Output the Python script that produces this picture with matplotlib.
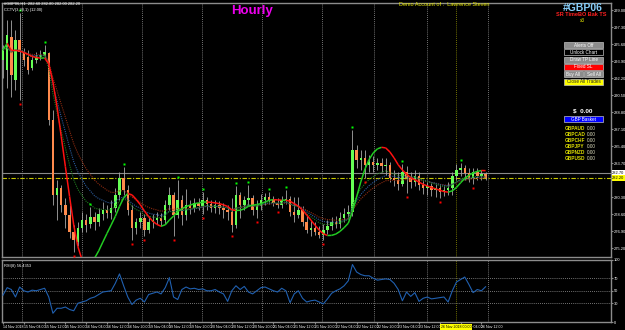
import numpy as np
import matplotlib.pyplot as plt
from matplotlib.collections import LineCollection
from matplotlib.patches import Rectangle

plt.rcParams['font.family'] = ['Liberation Sans', 'DejaVu Sans']

# --- H1 bars, #GBP06 ---
opens = [294.0, 293.0, 296.3, 292.0, 296.0, 294.8, 294.3, 293.2, 294.0, 294.3,
         294.4, 294.7, 288.0, 280.5, 281.2, 279.5, 278.5, 276.8, 275.8, 277.2,
         278.0, 277.6, 278.3, 277.8, 278.6, 279.0, 278.7, 279.2, 280.5, 282.2,
         281.0, 279.0, 277.2, 277.8, 278.2, 277.0, 277.8, 278.0, 278.2, 278.0,
         279.5, 280.5, 278.5, 280.0, 278.5, 279.5, 279.2, 279.7, 279.4, 280.0,
         279.6, 279.2, 279.5, 279.2, 279.0, 278.8, 277.5, 280.5, 279.5, 280.0,
         280.2, 279.0, 279.4, 280.0, 280.3, 280.0, 279.7, 279.5, 280.0, 280.1,
         278.8, 278.5, 279.0, 277.8, 277.0, 277.2, 276.8, 276.5, 277.0, 277.4,
         277.8, 277.6, 278.2, 278.6, 278.8, 285.0, 284.0, 284.2, 283.5, 283.8,
         283.5, 283.7, 283.4, 283.5, 282.2, 282.0, 281.6, 282.8, 282.2, 281.8,
         282.4, 281.5, 281.2, 281.4, 281.0, 281.2, 280.8, 281.0, 281.2, 282.4,
         283.0, 283.2, 282.7, 282.2, 282.8, 282.4, 282.6]
highs = [295.5, 298.0, 298.0, 297.0, 298.7, 295.2, 295.0, 294.5, 294.8, 295.0,
         295.5, 294.8, 289.0, 282.0, 281.5, 280.2, 279.5, 277.5, 277.8, 278.8,
         278.6, 279.3, 278.8, 279.2, 279.8, 279.5, 280.0, 281.2, 282.8, 283.3,
         281.5, 279.5, 278.2, 278.8, 278.6, 278.4, 278.6, 278.8, 278.7, 280.0,
         281.3, 280.8, 282.0, 280.5, 281.1, 280.0, 280.2, 280.2, 280.8, 280.3,
         280.0, 280.0, 279.9, 279.7, 279.5, 280.2, 281.4, 280.8, 280.4, 281.5,
         280.5, 280.0, 280.6, 280.7, 280.8, 280.4, 280.2, 280.4, 281.0, 280.4,
         280.3, 280.3, 279.4, 278.4, 278.0, 277.8, 277.4, 277.6, 278.0, 278.3,
         278.4, 278.8, 279.2, 279.5, 287.0, 285.5, 285.0, 285.0, 284.5, 284.4,
         284.2, 284.2, 284.2, 283.8, 283.0, 282.8, 283.6, 283.4, 282.8, 283.0,
         282.8, 282.0, 281.8, 281.7, 281.6, 281.6, 281.5, 281.8, 282.8, 283.6,
         283.7, 283.5, 283.2, 283.2, 283.2, 283.0, 282.8]
lows = [292.2, 291.2, 290.3, 291.0, 290.0, 293.4, 292.6, 293.0, 293.7, 294.0,
        294.2, 287.5, 279.5, 278.0, 278.8, 277.2, 276.2, 274.8, 275.4, 276.8,
        276.8, 277.2, 277.0, 277.4, 278.0, 278.2, 278.1, 278.8, 280.0, 280.5,
        278.5, 276.0, 276.6, 277.2, 276.4, 276.7, 277.2, 277.6, 277.4, 277.6,
        279.0, 276.4, 278.2, 277.5, 278.0, 278.6, 278.8, 279.0, 278.6, 279.0,
        278.8, 278.7, 278.6, 278.2, 278.0, 276.8, 277.2, 278.2, 279.0, 279.4,
        278.5, 278.2, 279.0, 279.5, 279.6, 279.4, 279.2, 279.2, 279.6, 278.4,
        277.8, 278.2, 277.4, 276.7, 276.4, 276.5, 276.2, 276.0, 276.6, 277.0,
        277.2, 277.2, 277.8, 278.2, 278.4, 283.2, 283.0, 282.2, 282.8, 282.8,
        283.0, 282.8, 282.5, 281.8, 281.4, 281.0, 281.4, 280.7, 281.2, 281.4,
        281.0, 280.6, 280.5, 280.4, 280.3, 280.2, 280.4, 280.5, 280.5, 282.0,
        282.4, 282.0, 281.8, 281.6, 282.0, 282.0, 282.0]
closes = [295.0, 296.5, 292.5, 296.0, 294.8, 294.0, 293.0, 294.0, 294.3, 294.5,
          294.8, 288.0, 280.5, 281.2, 279.5, 278.5, 276.8, 276.0, 277.2, 278.0,
          277.5, 278.3, 277.8, 278.6, 279.0, 278.7, 279.2, 280.5, 282.2, 281.0,
          279.0, 277.2, 277.8, 278.2, 277.0, 277.8, 278.0, 278.2, 277.9, 279.5,
          280.5, 278.5, 280.0, 278.5, 279.5, 279.2, 279.7, 279.4, 280.0, 279.6,
          279.2, 279.5, 279.2, 279.0, 278.8, 277.5, 280.5, 279.5, 280.0, 280.2,
          279.0, 279.4, 280.0, 280.3, 280.0, 279.7, 279.5, 280.0, 280.1, 278.8,
          278.5, 279.0, 277.8, 277.0, 277.2, 276.8, 276.5, 277.0, 277.4, 277.8,
          277.6, 278.2, 278.6, 278.8, 285.0, 284.0, 284.2, 283.5, 283.8, 283.5,
          283.7, 283.4, 283.5, 282.2, 282.0, 281.6, 282.8, 282.2, 281.8, 282.4,
          281.5, 281.2, 281.4, 281.0, 281.2, 280.8, 281.0, 281.2, 282.4, 283.0,
          283.2, 282.7, 282.2, 282.8, 282.4, 282.6, 282.2]

# RSI(8) as shown in the lower window
rsi_values = [43, 55, 52, 40, 56, 50, 48, 51, 50, 52,
              54, 40, 14, 22, 22, 24, 20, 18, 30, 32,
              34, 38, 40, 44, 48, 49, 50, 62, 77, 58,
              40, 28, 35, 38, 32, 44, 46, 48, 45, 55,
              71, 40, 36, 52, 56, 53, 54, 52, 53, 50,
              50, 52, 48, 45, 33, 50, 58, 52, 57, 48,
              45, 50, 55, 56, 53, 50, 48, 54, 50, 31,
              45, 50, 38, 32, 34, 35, 32, 29, 37, 46,
              50, 53, 58, 66, 92, 80, 76, 74, 74, 70,
              67, 68, 69, 68, 62, 52, 34, 48, 41, 47,
              33, 38, 40, 37, 38, 39, 40, 32, 50, 64,
              68, 72, 60, 47, 52, 50, 56.4353]

date_labels = ["14 Nov 2018", "15 Nov 04:00", "15 Nov 12:00", "15 Nov 20:00", "16 Nov 04:00",
               "16 Nov 12:00", "16 Nov 20:00", "19 Nov 04:00", "19 Nov 12:00", "19 Nov 20:00",
               "20 Nov 04:00", "20 Nov 12:00", "20 Nov 20:00", "21 Nov 04:00", "21 Nov 12:00",
               "21 Nov 20:00", "22 Nov 04:00", "22 Nov 12:00", "22 Nov 20:00", "23 Nov 04:00",
               "23 Nov 12:00", "23 Nov 20:00", "26 Nov 04:00", "26 Nov 12:00"]
price_ticks = [299.0, 297.3, 295.6, 293.9, 292.2, 290.5, 288.8, 287.1, 285.4, 283.7,
               280.3, 278.6, 276.9, 275.2]
ask_price = 282.7
bid_price = 282.2
basket_pairs = ["GBPAUD", "GBPCAD", "GBPCHF", "GBPJPY", "GBPNZD", "GBPUSD"]
basket_pnl = [0.00, 0.00, 0.00, 0.00, 0.00, 0.00]

o = np.array(opens); h = np.array(highs); l = np.array(lows); c = np.array(closes)
n = len(c)
x = np.arange(n)


def wma(v, p):
    out = np.empty(len(v))
    for i in range(len(v)):
        seg = v[max(0, i - p + 1):i + 1]
        w = np.arange(1, len(seg) + 1)
        out[i] = np.dot(seg, w) / w.sum()
    return out


def ema(v, p):
    a = 2.0 / (p + 1)
    out = np.empty(len(v))
    out[0] = v[0]
    for i in range(1, len(v)):
        out[i] = out[i - 1] + a * (v[i] - out[i - 1])
    return out


hma = wma(2 * wma(c, 9) - wma(c, 18), 4)

fig = plt.figure(figsize=(6.25, 3.3), dpi=100, facecolor='black')
ax = fig.add_axes([0.0032, 0.2212, 0.9744, 0.7697], facecolor='black')
ar = fig.add_axes([0.0032, 0.0242, 0.9744, 0.1894], facecolor='black')

grid_bars = [4.6, 19.0, 33.4, 47.8, 62.3, 76.7, 89.2, 101.9, 116.6]
for a in (ax, ar):
    a.set_xlim(-0.24, 146.15)
    for s in a.spines.values():
        s.set_color('#8c8c8c')
        s.set_linewidth(1.0)
    for gx in grid_bars:
        a.axvline(gx, color='#9a9a9a', lw=0.6, ls=(0, (1, 1.5)), zorder=0)
    a.axvline(108.9, color='#9a9a00', lw=0.6, ls=(0, (1, 1.5)), zorder=0)

ax.set_ylim(274.3, 299.7)

# candles
ax.vlines(x, l, h, color='#a8a8a8', lw=0.6, zorder=2)
bull = c >= o
body = np.maximum(np.abs(c - o), 0.12)
ax.bar(x, body, bottom=np.minimum(o, c), width=0.6,
       color=np.where(bull, '#66ff55', '#ff8a4c'), zorder=3)

# slower dotted averages
ax.plot(x, ema(c, 16), color='#8b2a10', lw=0.8, ls=(0, (1, 1)), zorder=4)
ax.plot(x, ema(c, 12), color='#2a5a9a', lw=0.8, ls=(0, (1, 1)), zorder=4)
ax.plot(x, ema(c, 9), color='#1f7a1f', lw=0.8, ls=(0, (1, 1)), zorder=4)

# hull line, red falling / green rising
pts = np.column_stack([x, hma])
segs = np.stack([pts[:-1], pts[1:]], axis=1)
cols = ['#22cc22' if hma[i + 1] > hma[i] else '#ff1010' for i in range(n - 1)]
ax.add_collection(LineCollection(segs, colors=cols, linewidths=1.1, zorder=5))

# fractals
up_f = [i for i in range(2, n - 2) if h[i] > max(h[i - 2:i]) and h[i] >= max(h[i + 1:i + 3])]
dn_f = [i for i in range(2, n - 2) if l[i] < min(l[i - 2:i]) and l[i] <= min(l[i + 1:i + 3])]
ax.plot(up_f, h[up_f] + 0.35, 's', color='#00ff00', ms=1.7, mec='none', zorder=6)
ax.plot(dn_f, l[dn_f] - 0.35, 's', color='#ff0000', ms=1.7, mec='none', zorder=6)

ax.axhline(ask_price, color='#8a8a8a', lw=0.8, zorder=1)
ax.axhline(bid_price, color='#c8c800', lw=0.8, ls=(0, (4, 1.5, 1, 1.5)), zorder=1)

ax.set_xticks([])
ax.yaxis.tick_right()
ax.set_yticks(price_ticks)
ax.set_yticklabels([f"{p:.2f}" for p in price_ticks])
ax.tick_params(axis='y', colors='#8c8c8c', labelcolor='white', labelsize=2.9, length=1.5, pad=0.6)
ax.text(1.002, (ask_price - 274.3) / 25.4, f"{ask_price:.2f}", transform=ax.transAxes, fontsize=2.9,
        va='center', ha='left', color='black', bbox=dict(boxstyle='square,pad=0.15', fc='white', ec='none'))
ax.text(1.002, (bid_price - 274.3) / 25.4, f"{bid_price:.2f}", transform=ax.transAxes, fontsize=2.9,
        va='center', ha='left', color='black', bbox=dict(boxstyle='square,pad=0.15', fc='#ffff00', ec='none'))

# RSI window
ar.set_ylim(0, 100)
for lvl in (30, 50, 70):
    ar.axhline(lvl, color='#9a9a9a', lw=0.6, ls=(0, (1, 1.5)), zorder=0)
ar.plot(x, rsi_values, color='#2060b0', lw=0.8, zorder=3)
ar.yaxis.tick_right()
ar.set_yticks([0, 30, 50, 70, 100])
ar.tick_params(axis='y', colors='#8c8c8c', labelcolor='white', labelsize=2.9, length=1.5, pad=0.6)
ar.set_xticks([5 * k for k in range(len(date_labels))])
ar.set_xticklabels(date_labels, family=['Liberation Sans Narrow', 'Liberation Sans'])
ar.tick_params(axis='x', colors='#8c8c8c', labelcolor='white', labelsize=2.6, length=1.5, pad=0.8)
for t in ar.get_xticklabels():
    t.set_ha('left')
ar.text(0.004, 0.93, f"RSI(8) {rsi_values[-1]:.4f}", transform=ar.transAxes, fontsize=2.9,
        color='white', va='top', ha='left')
ar.text(108.9, -4.5, "26 Nov 2018 00:00", fontsize=2.6, color='black', ha='center', va='top',
        family=['Liberation Sans Narrow', 'Liberation Sans'], clip_on=False,
        bbox=dict(boxstyle='square,pad=0.2', fc='#ffff00', ec='none'), zorder=10)

# overlay for chart texts and panel buttons (pixel coordinates)
ov = fig.add_axes([0, 0, 1, 1])
ov.set_xlim(0, 625)
ov.set_ylim(330, 0)
ov.axis('off')
ov.patch.set_alpha(0)

ov.text(4, 4, f"#GBP06,H1  {o[-1]:.2f} {h[-1]:.2f} {l[-1]:.2f} {c[-1]:.2f}", fontsize=2.9,
        color='white', va='center')
ov.text(4, 10, "CCTV(3,20,1) (12.00)", fontsize=2.9, color='white', va='center')
ov.text(252, 11, "Hourly", fontsize=9.5, fontweight='bold', color='#ee00ee', ha='center', va='center')
ov.text(444, 5, "Demo Account of :  Lawrence Steven", fontsize=4.0, color='#e8e800',
        ha='center', va='center')
ov.text(583, 8, "#GBP06", fontsize=7.5, fontweight='bold', color='#87cefa', ha='center', va='center')
ov.text(581, 15, "SR TimeBO Bak TS", fontsize=4.0, fontweight='bold', color='#ff2020',
        ha='center', va='center')
ov.text(582, 21, "x3", fontsize=3.4, color='#e8e800', ha='center', va='center')

buttons = [("Alerts Off", 564, 42, 39, '#8c8c8c', 'white', '#c0c0c0'),
           ("Unlock Chart", 564, 49.3, 39, 'black', 'white', '#c0c0c0'),
           ("Draw TP Line", 564, 56.6, 39, '#8c8c8c', 'white', '#c0c0c0'),
           ("Fixed SL", 564, 63.9, 39, '#ff0000', 'white', '#c0c0c0'),
           ("Buy All", 564, 71.2, 19, '#8c8c8c', 'white', '#c0c0c0'),
           ("Sell All", 584, 71.2, 19, '#8c8c8c', 'white', '#c0c0c0'),
           ("Close All Trades", 564, 78.5, 39, '#ffff00', '#202020', '#c0c0c0'),
           ("GBP Basket", 564, 116, 39, '#0000ff', 'white', '#c0c0c0')]
for lbl, bx, by, bw, fc, tc, ec in buttons:
    ov.add_patch(Rectangle((bx, by), bw, 6, fc=fc, ec=ec, lw=0.5))
    ov.text(bx + bw / 2, by + 3.1, lbl, fontsize=3.3, color=tc, ha='center', va='center')

ov.text(583, 111, "$  0.00", fontsize=4.6, fontweight='bold', color='white', ha='center', va='center')
for k, (pair, pnl) in enumerate(zip(basket_pairs, basket_pnl)):
    yy = 128 + 6 * k
    ov.text(565, yy, pair, fontsize=3.4, fontweight='bold', color='#e0e000', va='center')
    ov.text(587, yy, f"{pnl:.2f}", fontsize=3.4, color='#e0e0c0', va='center')

fig.savefig('out.png', dpi=100, facecolor='black')
